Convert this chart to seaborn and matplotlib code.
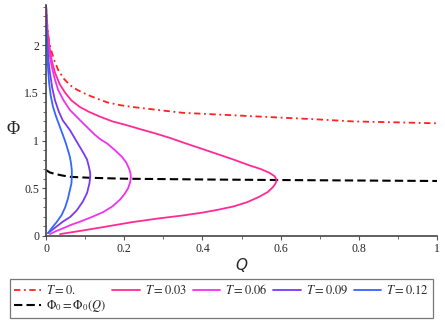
"""
Phi versus Q for several temperatures, Maple-style line chart.
"""

import matplotlib
matplotlib.use('Agg')
import matplotlib.pyplot as plt
from matplotlib.ticker import MultipleLocator
import seaborn as sns

# --- data ---
q_t0 = [0.0, 0.001, 0.003, 0.005, 0.008, 0.015, 0.022, 0.031, 0.045, 0.061,
        0.08, 0.105, 0.13, 0.156, 0.19, 0.223, 0.286, 0.35, 0.45, 0.60,
        0.70, 0.785, 0.90, 1.0]
phi_t0 = [2.42, 2.35, 2.22, 2.13, 2.03, 1.92, 1.83, 1.74, 1.65, 1.58,
          1.53, 1.48, 1.44, 1.40, 1.37, 1.35, 1.32, 1.29, 1.27, 1.24,
          1.22, 1.20, 1.19, 1.18]

q_t003 = [0.0, 0.002, 0.004, 0.007, 0.010, 0.015, 0.023, 0.035, 0.049, 0.065,
          0.087, 0.11, 0.138, 0.17, 0.207, 0.24, 0.279, 0.315, 0.35, 0.39,
          0.437, 0.48, 0.52, 0.55, 0.572, 0.585, 0.59,
          0.587, 0.58, 0.567, 0.545, 0.515, 0.48, 0.44, 0.40, 0.35,
          0.29, 0.22, 0.156, 0.09, 0.036]
phi_t003 = [2.42, 2.28, 2.15, 2.04, 1.95, 1.83, 1.71, 1.59, 1.50, 1.42,
            1.35, 1.30, 1.25, 1.20, 1.16, 1.12, 1.075, 1.03, 0.98, 0.925,
            0.86, 0.80, 0.74, 0.70, 0.66, 0.625, 0.586,
            0.55, 0.51, 0.46, 0.41, 0.355, 0.31, 0.275, 0.245, 0.215,
            0.185, 0.145, 0.10, 0.055, 0.02]

q_t006 = [0.0, 0.002, 0.005, 0.009, 0.015, 0.022, 0.031, 0.045, 0.061, 0.078,
          0.095, 0.11, 0.125, 0.14, 0.156, 0.176, 0.194, 0.205, 0.212, 0.216,
          0.217, 0.215, 0.21, 0.201, 0.189, 0.17, 0.146, 0.118, 0.087, 0.063,
          0.043, 0.025, 0.010]
phi_t006 = [2.42, 2.20, 2.02, 1.90, 1.77, 1.65, 1.53, 1.42, 1.32, 1.25,
            1.18, 1.12, 1.06, 1.01, 0.97, 0.90, 0.83, 0.77, 0.71, 0.66,
            0.61, 0.56, 0.50, 0.44, 0.38, 0.31, 0.25, 0.20, 0.15, 0.115,
            0.08, 0.05, 0.02]

q_t009 = [0.0, 0.001, 0.003, 0.006, 0.010, 0.016, 0.023, 0.033, 0.043, 0.052,
          0.061, 0.074, 0.087, 0.097, 0.105, 0.110, 0.113, 0.113, 0.111, 0.105,
          0.094, 0.079, 0.062, 0.043, 0.024, 0.005]
phi_t009 = [2.42, 2.20, 2.02, 1.85, 1.71, 1.55, 1.42, 1.30, 1.21, 1.16,
            1.11, 1.02, 0.93, 0.86, 0.80, 0.72, 0.66, 0.62, 0.55, 0.45,
            0.36, 0.27, 0.20, 0.15, 0.09, 0.03]

q_t012 = [0.0, 0.001, 0.003, 0.005, 0.008, 0.012, 0.018, 0.025, 0.033, 0.043,
          0.050, 0.056, 0.061, 0.064, 0.066, 0.066, 0.065, 0.061, 0.056, 0.049,
          0.040, 0.028, 0.016, 0.005]
phi_t012 = [2.42, 2.15, 1.95, 1.77, 1.60, 1.47, 1.35, 1.26, 1.17, 1.06,
            0.98, 0.90, 0.83, 0.76, 0.69, 0.62, 0.55, 0.48, 0.39, 0.30,
            0.22, 0.15, 0.09, 0.03]

q_phi0 = [0.0, 0.01, 0.023, 0.04, 0.06, 0.11, 0.2, 0.4, 0.6, 0.8, 1.0]
phi_phi0 = [0.69, 0.665, 0.65, 0.635, 0.62, 0.61, 0.60, 0.592, 0.586, 0.581, 0.576]

x_ticks = [0, 0.2, 0.4, 0.6, 0.8, 1]
x_tick_labels = ['0', '0.2', '0.4', '0.6', '0.8', '1']
y_ticks = [0, 0.5, 1, 1.5, 2]
y_tick_labels = ['0', '0.5', '1', '1.5', '2']

series = [
    (q_t0, phi_t0, '#ff2020', r'$T = 0.$', (0, (3.5, 2, 1, 2))),
    (q_phi0, phi_phi0, '#000000', r'$\Phi_0 = \Phi_0(Q)$', (0, (4, 2))),
    (q_t003, phi_t003, '#ff2a95', r'$T = 0.03$', '-'),
    (q_t006, phi_t006, '#f032f0', r'$T = 0.06$', '-'),
    (q_t009, phi_t009, '#7a38f5', r'$T = 0.09$', '-'),
    (q_t012, phi_t012, '#3366ff', r'$T = 0.12$', '-'),
]

sns.set_style('white')
plt.rcParams['mathtext.fontset'] = 'stix'
plt.rcParams['font.family'] = ['Liberation Serif', 'DejaVu Sans']

fig = plt.figure(figsize=(4.45, 3.28), dpi=100)
ax = fig.add_axes([0.1034, 0.2805, 0.8786, 0.7045])

for q, phi, color, label, ls in series:
    lw = 1.5 if color == '#000000' else 1.3
    sns.lineplot(x=q, y=phi, sort=False, estimator=None, color=color,
                 linestyle=ls, linewidth=lw, label=label, ax=ax)

ax.set_xlim(0, 1)
ax.set_ylim(0, 2.42)
ax.set_xticks(x_ticks, x_tick_labels)
ax.set_yticks(y_ticks, y_tick_labels)
ax.xaxis.set_minor_locator(MultipleLocator(0.1))
ax.yaxis.set_minor_locator(MultipleLocator(0.1))
ax.tick_params(which='major', direction='out', length=3, width=0.8,
               color='#555555', labelsize=8.5, pad=2)
ax.tick_params(which='minor', direction='out', length=2, width=0.6,
               color='#555555')
ax.tick_params(axis='x', bottom=True, which='both')
ax.tick_params(axis='y', left=True, which='both')

for side in ['top', 'right']:
    ax.spines[side].set_visible(False)
for side in ['left', 'bottom']:
    ax.spines[side].set_color('#444444')
    ax.spines[side].set_linewidth(1.2)

ax.set_xlabel('Q', family='DejaVu Sans', style='italic', fontsize=11, labelpad=2)
ax.set_ylabel('Φ', fontsize=13, rotation=0, ha='center', va='center')
ax.yaxis.set_label_coords(-0.085, 0.46)

ax.legend(loc='lower left', bbox_to_anchor=(0.022, 0.030, 0.951, 0.121),
          bbox_transform=fig.transFigure, mode='expand', ncol=5,
          fontsize=9, frameon=True, fancybox=False, edgecolor='#555555',
          borderaxespad=0, handlelength=2.2, handletextpad=0.4,
          borderpad=0.3, labelspacing=0.1, columnspacing=0.4)
ax.get_legend().get_frame().set_linewidth(0.9)

plt.savefig('out.png', dpi=100)
plt.close()
